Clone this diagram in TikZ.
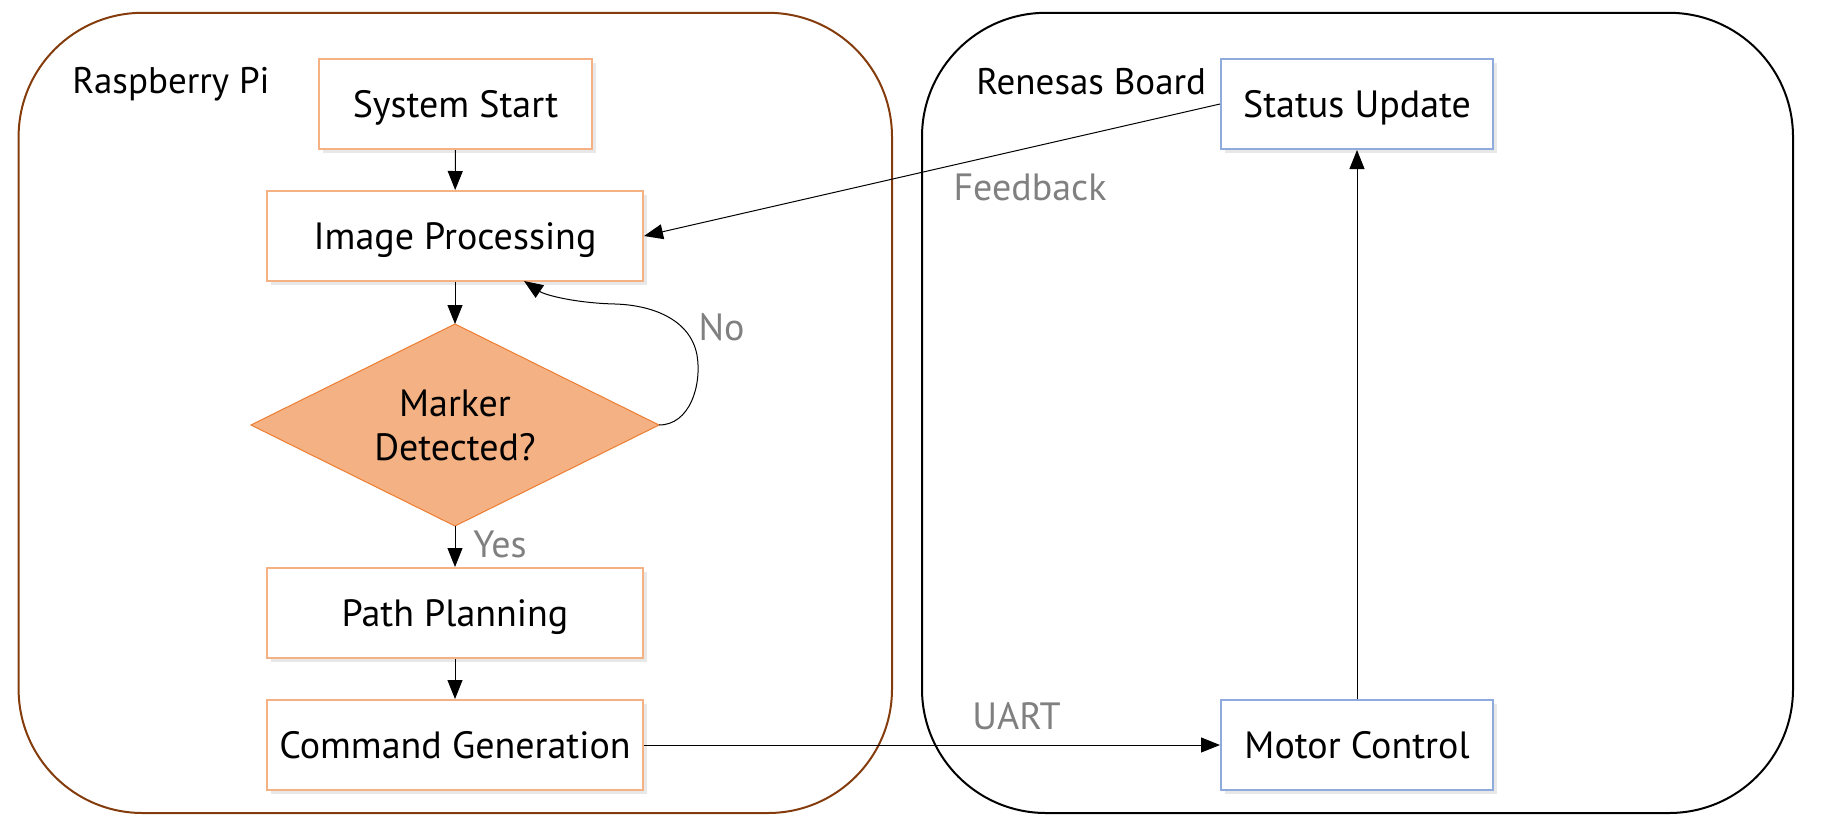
\documentclass[tikz,border=0pt]{standalone}
\usepackage{fontspec}
\setmainfont{PT Sans}
\usetikzlibrary{arrows.meta,shadows,calc}
\definecolor{rpi}{HTML}{843C0C}
\definecolor{orb}{HTML}{F4B183}
\definecolor{ord}{HTML}{ED7D31}
\definecolor{blb}{HTML}{8FAADC}
\definecolor{lbl}{HTML}{808080}
\tikzset{
  boxtxt/.style={font=\fontsize{19}{22}\selectfont},
  proc/.style={boxtxt, draw=orb, line width=1pt, fill=white, minimum width=188pt, minimum height=45pt, inner sep=0pt,
    text depth=0pt, text height=13pt,
    drop shadow={shadow xshift=2pt, shadow yshift=-2pt, opacity=0.18}},
  procsmall/.style={proc, minimum width=136.5pt},
  bluebox/.style={proc, draw=blb, minimum width=136pt},
  container/.style={line width=1pt, rounded corners=62pt},
  grouplbl/.style={anchor=west, inner sep=0pt, font=\fontsize{18.5}{22}\selectfont},
  edgelbl/.style={inner sep=0pt, text=lbl, font=\fontsize{19}{22}\selectfont},
  conn/.style={line width=0.5pt, -{Triangle[length=9.5pt,width=7.5pt]}},
  diam/.style={fill=orb, draw=ord, line width=0.5pt}
}
\begin{document}
\begin{tikzpicture}[x=0.5pt,y=-0.5pt]
\useasboundingbox (0,0) rectangle (1826,836);
% containers
\draw[container, draw=rpi] (18.6,12.8) rectangle (892,813);
\draw[container, draw=black] (922,12.8) rectangle (1793,813);
\node[grouplbl] (lrpi) at (72,84) {Raspberry Pi};
\node[grouplbl] (lren) at (976,81.5) {Renesas Board};
% left flow
\node[procsmall] (start) at (455.5,104) {System Start};
\node[proc] (img) at (455,236) {Image Processing};
\coordinate (dN) at (455,324);
\coordinate (dE) at (659,425);
\coordinate (dS) at (455,526);
\coordinate (dW) at (251,425);
\draw[diam] (dN) -- (dE) -- (dS) -- (dW) -- cycle;
\node[boxtxt, align=center, inner sep=0pt] (dec) at (455,425) {Marker\\Detected?};
\node[proc] (plan) at (455,613) {Path Planning};
\node[proc] (cmd) at (455,745) {Command Generation};
% right flow
\node[bluebox] (status) at (1357,104) {Status Update};
\node[bluebox] (motor) at (1357,745) {Motor Control};
% connectors
\draw[conn] (start) -- (img);
\draw[conn] (img) -- (dN);
\draw[conn] (dS) -- (plan);
\draw[conn] (plan) -- (cmd);
\draw[conn] (cmd) -- (motor);
\draw[conn] (motor) -- (status);
\draw[conn] (status.west) -- (img.east);
\coordinate (noend) at (524,281);
\draw[conn] (dE) .. controls (690,425) and (702,385) .. (697,355)
  .. controls (690,318) and (650,305) .. (615,304)
  .. controls (575,303) and (545,295) .. (noend);
% edge labels
\node[edgelbl] (lfb) at (1030,187.5) {Feedback};
\node[edgelbl] (lno) at (721.5,327) {No};
\node[edgelbl] (lyes) at (500,544) {Yes};
\node[edgelbl] (luart) at (1016.5,716) {UART};
\end{tikzpicture}
\end{document}
